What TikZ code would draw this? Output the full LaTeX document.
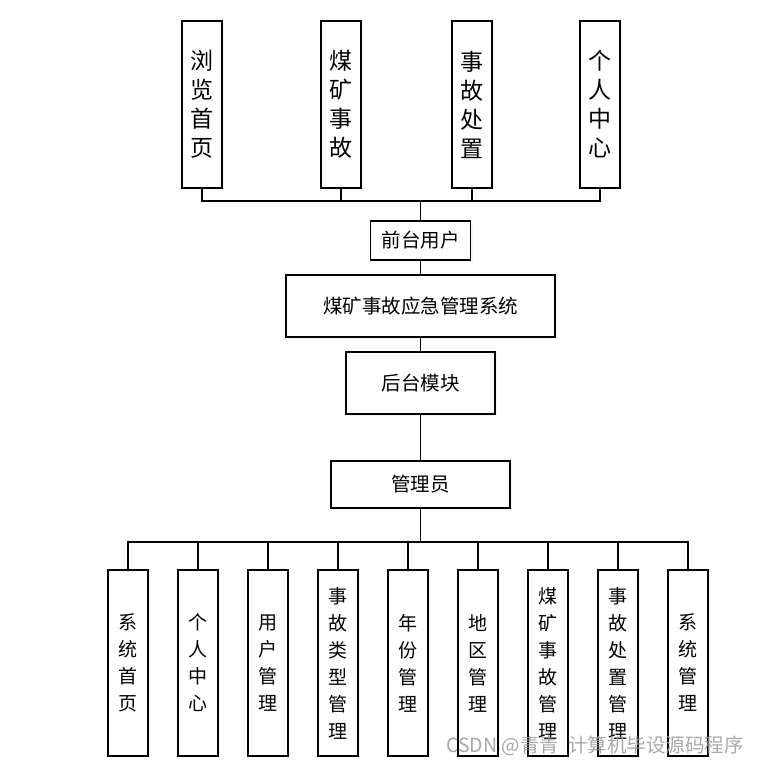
\documentclass[tikz,border=0pt]{standalone}
\usepackage{fontspec}
\usepackage{tikz}
\usepackage{xcolor}
\usetikzlibrary{positioning,shadows}
\newfontfamily\cjk{Noto Sans CJK SC}

\begin{document}
\begin{tikzpicture}[
  x=1pt, y=1pt,
  line join=miter,
  tall/.style={rectangle, draw=black, line width=1.3pt, fill=white, align=center, inner sep=0pt, outer sep=0pt, minimum width=40pt, minimum height=167pt, font=\cjk\fontsize{23}{29}\selectfont, drop shadow={shadow xshift=2pt, shadow yshift=-2pt, fill=blue!8, opacity=0.5}},
  low/.style={rectangle, draw=black, line width=1.3pt, fill=white, align=center, inner sep=0pt, outer sep=0pt, minimum width=40pt, minimum height=186pt, font=\cjk\fontsize{19}{27}\selectfont, drop shadow={shadow xshift=2pt, shadow yshift=-2pt, fill=blue!8, opacity=0.5}},
  mid/.style={rectangle, draw=black, line width=1.3pt, fill=white, align=center, inner sep=0pt, outer sep=0pt, font=\cjk\fontsize{19.5}{24}\selectfont, drop shadow={shadow xshift=2pt, shadow yshift=-2pt, fill=blue!8, opacity=0.5}},
  link/.style={draw=black, line width=1.2pt}
]
\useasboundingbox (0,0) rectangle (763,-765);

\node[mid, minimum width=269pt, minimum height=62pt] (sys) at (420.5,-306) {煤矿事故应急管理系统};
\node[mid, minimum width=100pt, minimum height=39pt, above=15pt of sys] (front) {前台用户};
\node[mid, minimum width=149pt, minimum height=62pt, below=15pt of sys] (back) {后台模块};
\node[mid, minimum width=179pt, minimum height=47pt, below=47pt of back] (admin) {管理员};

\node[tall] (t1) at (202,-104.5) {浏\\览\\首\\页};
\node[tall, right=99pt of t1] (t2) {煤\\矿\\事\\故};
\node[tall, right=91pt of t2] (t3) {事\\故\\处\\置};
\node[tall, right=88pt of t3] (t4) {个\\人\\中\\心};

\node[low] (b1) at (128,-663) {系\\统\\首\\页};
\node[low, right=30pt of b1] (b2) {个\\人\\中\\心};
\node[low, right=30pt of b2] (b3) {用\\户\\管\\理};
\node[low, right=30pt of b3] (b4) {事\\故\\类\\型\\管\\理};
\node[low, right=30pt of b4] (b5) {年\\份\\管\\理};
\node[low, right=30pt of b5] (b6) {地\\区\\管\\理};
\node[low, right=30pt of b6] (b7) {煤\\矿\\事\\故\\管\\理};
\node[low, right=30pt of b7] (b8) {事\\故\\处\\置\\管\\理};
\node[low, right=30pt of b8] (b9) {系\\统\\管\\理};

\coordinate[above=20pt of front] (tbus);
\coordinate[below=34pt of admin] (bbus);

\draw[link] (front) -- (tbus);
\draw[link] (t1.south) |- (tbus);
\draw[link] (t2.south) |- (tbus);
\draw[link] (t3.south) |- (tbus);
\draw[link] (t4.south) |- (tbus);

\draw[link] (front) -- (sys);
\draw[link] (sys) -- (back);
\draw[link] (back) -- (admin);
\draw[link] (admin) -- (bbus);
\draw[link] (bbus) -| (b1.north);
\draw[link] (bbus) -| (b2.north);
\draw[link] (bbus) -| (b3.north);
\draw[link] (bbus) -| (b4.north);
\draw[link] (bbus) -| (b5.north);
\draw[link] (bbus) -| (b6.north);
\draw[link] (bbus) -| (b7.north);
\draw[link] (bbus) -| (b8.north);
\draw[link] (bbus) -| (b9.north);

\node[font=\cjk\fontsize{19.5}{22}\selectfont, text=black!40, opacity=0.85] (mark) at (595,-746) {CSDN @青青\ \ 计算机毕设源码程序};
\end{tikzpicture}
\end{document}
